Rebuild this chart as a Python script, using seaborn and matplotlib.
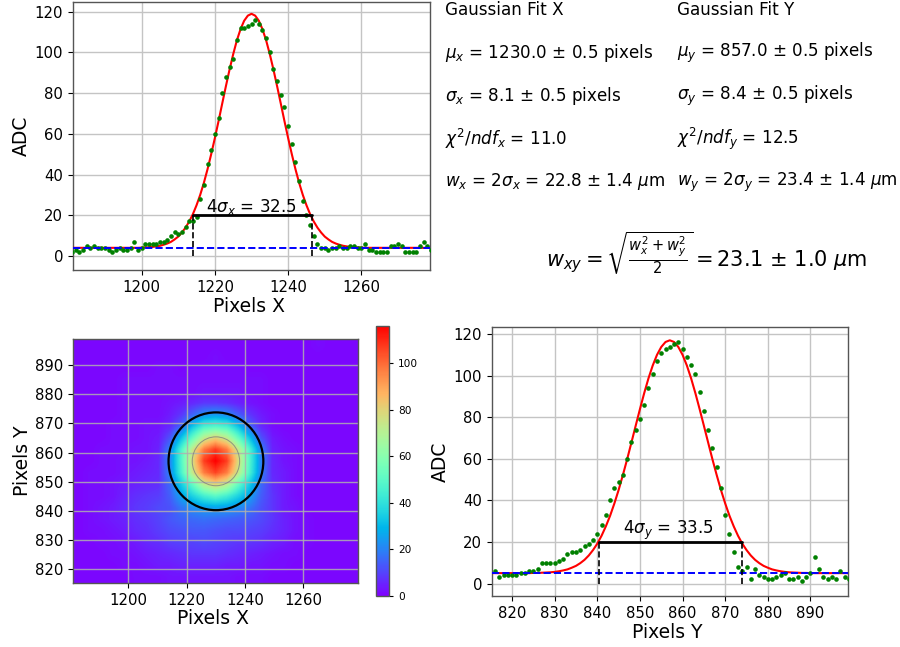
import numpy as np
import matplotlib
matplotlib.use("Agg")
import matplotlib.pyplot as plt
from matplotlib.patches import Ellipse
import seaborn as sns

# ---- data ----
adc_x = [2,3,2,3,5,4,5,4,4,4,3,2,3,4,3,3,4,7,3,4,6,6,6,6,7,7,8,10,12,11,12,14,17,17,19,
         28,35,45,52,60,68,80,88,93,97,106,112,112,113,114,116,114,111,107,100,92,86,79,73,64,55,
         46,37,27,20,15,10,6,4,4,3,4,4,5,4,4,5,5,4,4,6,3,3,2,2,2,2,5,5,6,5,2,2,2,2,5,7,5,3]
fit_x = [4.0,4.0,4.0,4.0,4.0,4.0,4.0,4.0,4.0,4.0,4.0,4.0,4.0,4.0,4.0,4.0,4.0,4.0,4.0,
         4.1,4.2,4.3,4.45,4.7,5.0,5.5,6.1,6.9,8.1,9.5,11.5,13.9,16.9,20.5,24.9,30.0,35.9,42.6,50.0,
         57.9,66.2,74.8,83.3,91.5,99.1,105.9,111.4,115.6,118.1,119.0,118.1,115.6,111.4,105.9,99.1,
         91.5,83.3,74.8,66.2,57.9,50.0,42.6,35.9,30.0,24.9,20.5,16.9,13.9,11.5,9.5,8.1,6.9,6.1,5.5,
         5.0,4.7,4.45,4.3,4.2,4.1,4.0,4.0,4.0,4.0,4.0,4.0,4.0,4.0,4.0,4.0,4.0,4.0,4.0,4.0,4.0,4.0,4.0,4.0,4.0]
adc_y = [6,3,4,4,4,4,5,5,6,6,7,10,10,10,10,11,12,14,15,15,16,18,19,21,24,28,33,40,46,49,52,
         60,68,74,79,86,94,101,107,111,113,114,115,116,113,109,105,101,92,83,74,65,56,
         46,33,24,15,8,6,8,2,7,4,3,2,2,3,4,5,2,2,3,1,3,5,13,7,3,2,3,2,6,3,2]
fit_y = [5.0,5.0,5.0,5.0,5.0,5.0,5.0,5.0,5.0,5.0,5.1,5.1,5.2,5.3,5.4,5.6,5.9,6.3,6.8,7.6,8.5,9.8,
         11.4,13.5,16.1,19.2,23.0,27.5,32.6,38.5,45.0,52.2,59.8,67.8,75.9,83.9,91.6,98.7,104.9,110.0,
         113.8,116.2,117.0,116.2,113.8,110.0,104.9,98.7,91.6,83.9,75.9,67.8,59.8,52.2,45.0,38.5,32.6,
         27.5,23.0,19.2,16.1,13.5,11.4,9.8,8.5,7.6,6.8,6.3,5.9,5.6,5.4,5.3,5.2,5.1,5.1,5.0,5.0,5.0,
         5.0,5.0,5.0,5.0,5.0,5.0,5.0]
pixels_adc_x = list(range(1181, 1280))
pixels_fit_x = list(range(1181, 1280))
pixels_adc_y = list(range(816, 900))
pixels_fit_y = list(range(815, 900))
mu_x, mu_y = 1230.0, 857.0
sigma_x, sigma_y = 8.125, 8.375
offset_x, offset_y = 4.0, 5.0
left_x, right_x, level_x = 1214.0, 1246.5, 20
left_y, right_y, level_y = 840.5, 874.0, 20

beam = [
 [1,1,1,1,1,1,1,1,1,1,1,1,1,1,1,1,1,1,1,1,1,2,1,1,1],
 [1,1,1,1,1,1,1,1,1,1,1,1,2,1,1,1,1,1,1,1,1,1,1,1,1],
 [1,1,1,1,1,1,1,2,2,1,2,2,2,2,2,1,1,1,1,1,1,1,1,1,1],
 [1,1,1,1,2,2,2,2,2,2,2,2,2,2,2,2,2,1,1,1,1,1,1,1,1],
 [1,1,1,1,2,2,2,2,2,2,2,3,3,3,3,2,2,1,1,1,1,1,1,1,1],
 [1,1,1,1,2,2,2,2,3,4,6,8,8,7,5,3,2,1,1,1,1,1,1,1,1],
 [1,1,1,1,2,2,2,2,4,8,15,22,24,21,14,8,4,2,1,1,1,1,1,1,1],
 [1,1,1,2,2,2,3,3,6,15,32,45,48,45,32,15,6,2,1,1,1,1,1,1,1],
 [1,1,1,2,2,2,3,4,12,32,52,72,80,72,52,32,12,4,2,1,1,1,1,1,1],
 [1,1,2,2,2,3,3,5,20,47,74,97,107,97,74,47,20,5,3,2,1,1,1,1,1],
 [1,1,2,2,3,3,4,6,20,48,78,107,116,107,78,48,20,6,3,2,1,1,1,1,1],
 [1,2,2,2,3,4,5,6,20,46,74,97,106,97,74,46,20,6,4,2,1,1,1,1,1],
 [1,2,2,3,4,5,6,7,16,34,52,72,80,72,52,34,16,7,4,2,1,1,1,1,1],
 [1,2,2,3,5,7,8,9,14,26,36,45,50,45,36,26,14,8,4,2,1,1,1,1,1],
 [1,2,3,4,6,8,9,11,12,18,22,25,26,25,22,18,12,8,4,3,1,1,1,1,1],
 [1,2,3,4,5,7,8,10,13,15,16,17,16,15,14,13,11,8,5,3,2,1,1,1,1],
 [1,2,2,3,4,6,7,9,11,12,13,13,12,11,11,10,9,7,5,3,2,1,1,1,1],
 [1,1,2,2,3,4,6,7,9,10,10,11,10,9,8,8,7,5,4,2,2,1,1,1,1],
 [1,1,1,2,2,3,4,5,6,7,8,8,8,7,6,5,4,3,2,2,1,1,1,1,1],
 [1,1,1,1,2,2,3,4,4,5,5,5,5,4,4,3,3,2,2,1,1,1,1,1,1],
 [1,1,1,1,1,2,2,2,3,3,3,3,3,3,2,2,2,1,1,1,1,1,1,1,1],
]

info_left = ["Gaussian Fit X",
             r"$\mu_x$ = 1230.0 $\pm$ 0.5 pixels",
             r"$\sigma_x$ = 8.1 $\pm$ 0.5 pixels",
             r"$\chi^2/ndf_x$ = 11.0",
             r"$w_x$ = $2\sigma_x$ = 22.8 $\pm$ 1.4 $\mu$m"]
info_right = ["Gaussian Fit Y",
              r"$\mu_y$ = 857.0 $\pm$ 0.5 pixels",
              r"$\sigma_y$ = 8.4 $\pm$ 0.5 pixels",
              r"$\chi^2/ndf_y$ = 12.5",
              r"$w_y$ = $2\sigma_y$ = 23.4 $\pm$ 1.4 $\mu$m"]
formula = r"$w_{xy} = \sqrt{\frac{w_x^2 + w_y^2}{2}} =$23.1 $\pm$ 1.0 $\mu$m"

# ---- style ----
sns.set_theme(style="ticks", rc={
    "axes.edgecolor": "#555555", "text.color": "black", "axes.labelcolor": "black",
    "xtick.color": "black", "ytick.color": "black", "xtick.bottom": True, "ytick.left": True,
    "axes.linewidth": 1.0, "grid.color": "#c4c4c4", "grid.linewidth": 1.0,
    "mathtext.fontset": "dejavusans"})
plt.rcParams["font.family"] = ["DejaVu Sans"]

W, H = 900, 647
fig = plt.figure(figsize=(W / 100, H / 100), dpi=100)

def box(l, t, r, b):
    return [l / W, 1 - b / H, (r - l) / W, (b - t) / H]

TICK, LABEL = 10.7, 13.5

def profile(ax, px_a, adc, px_f, fit, off, left, right, level, xlim, ylim, xlabel, note, note_xy):
    ax.grid(True)
    ax.set_axisbelow(True)
    sns.lineplot(x=px_f, y=fit, color="red", linewidth=1.5, ax=ax, zorder=3)
    sns.scatterplot(x=px_a, y=adc, color="green", s=11, linewidth=0, ax=ax, zorder=4)
    sns.lineplot(x=list(xlim), y=[off, off], color="blue", linestyle="--", linewidth=1.4, ax=ax, zorder=5)
    sns.lineplot(x=[left, right], y=[level, level], color="black", linewidth=2, ax=ax, zorder=5)
    for p in (left, right):
        ax.plot([p, p], [0, level], color="black", linestyle="--", linewidth=1.2, zorder=5)
    ax.set_xlim(*xlim)
    ax.set_ylim(*ylim)
    ax.set_yticks(range(0, 121, 20))
    ax.tick_params(labelsize=TICK, length=3.5, width=0.8)
    ax.set_xlabel(xlabel, fontsize=LABEL, labelpad=2, x=0.492)
    ax.set_ylabel("ADC", fontsize=LABEL, labelpad=3)
    ax.text(note_xy[0], note_xy[1], note, fontsize=12, ha="center", va="center", zorder=6)

# top-left profile
ax1 = fig.add_axes(box(73, 2, 430, 270))
profile(ax1, pixels_adc_x, adc_x, pixels_fit_x, fit_x, offset_x, left_x, right_x, level_x,
        (1181.3, 1278.7), (-6.9, 124.8), "Pixels X", r"$4\sigma_x$ = 32.5", (1230, 24))
ax1.set_xticks([1200, 1220, 1240, 1260])

# bottom-right profile
ax2 = fig.add_axes(box(492, 327, 848, 596))
profile(ax2, pixels_adc_y, adc_y, pixels_fit_y, fit_y, offset_y, left_y, right_y, level_y,
        (815.3, 898.8), (-6.0, 123.4), "Pixels Y", r"$4\sigma_y$ = 33.5", (856.6, 25.7))
ax2.set_xticks(range(820, 891, 10))

# heat map
ax3 = fig.add_axes(box(73, 339, 358, 583))
im = ax3.imshow(np.array(beam), cmap="rainbow", vmin=0, vmax=116, aspect="auto",
                extent=(1181, 1278.7, 815.3, 898.9), interpolation="bilinear")
ax3.grid(True, color="#b0b0b0", linewidth=1.0, alpha=0.85)
ax3.add_patch(Ellipse((mu_x, mu_y), 4 * sigma_x, 4 * sigma_y, fill=False, edgecolor="black", linewidth=1.6, zorder=4))
ax3.add_patch(Ellipse((mu_x, mu_y), 2 * sigma_x, 2 * sigma_y, fill=False, edgecolor="gray", linewidth=0.7, alpha=0.8, zorder=4))
ax3.set_xticks([1200, 1220, 1240, 1260])
ax3.set_yticks(range(820, 891, 10))
ax3.tick_params(labelsize=TICK, length=3.5, width=0.8)
ax3.set_xlabel("Pixels X", fontsize=LABEL, labelpad=1, x=0.49)
ax3.set_ylabel("Pixels Y", fontsize=LABEL, labelpad=2)

cax = fig.add_axes(box(376, 326, 389, 596))
cb = fig.colorbar(im, cax=cax)
cb.set_ticks(range(0, 101, 20))
cb.ax.tick_params(labelsize=7.6, length=3, width=0.8)

# fit results text
for col_x, lines in ((445, info_left), (677, info_right)):
    for row_y, line in zip((10, 53, 96, 139, 182), lines):
        fig.text(col_x / W, 1 - row_y / H, line, fontsize=12.1, ha="left", va="center")
fig.text(546 / W, 1 - 253 / H, formula, fontsize=15, ha="left", va="center")

fig.savefig("out.png", dpi=100)
